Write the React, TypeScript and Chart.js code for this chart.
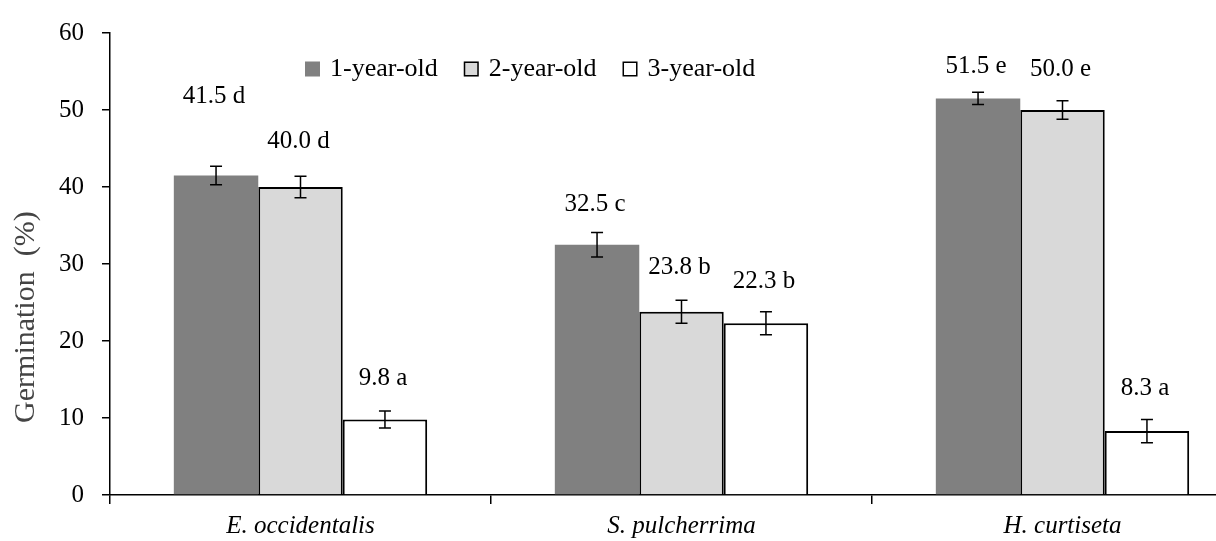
import React, { useEffect, useRef } from 'react';
import { Chart, registerables } from 'chart.js';
Chart.register(...registerables);

const categories = ['E. occidentalis', 'S. pulcherrima', 'H. curtiseta'];
const seriesNames = ['1-year-old', '2-year-old', '3-year-old'];
const oneYear = [41.5, 32.5, 51.5];
const twoYear = [40.0, 23.8, 50.0];
const threeYear = [9.8, 22.3, 8.3];
const oneYearErr = [1.2, 1.6, 0.8];
const twoYearErr = [1.4, 1.5, 1.2];
const threeYearErr = [1.1, 1.5, 1.5];
const oneYearLetters = ['d', 'c', 'e'];
const twoYearLetters = ['d', 'b', 'e'];
const threeYearLetters = ['a', 'b', 'a'];
// heights (in % units) where the annotation texts sit
const oneYearLabelAt = [51.7, 37.7, 55.7];
const twoYearLabelAt = [45.9, 29.6, 55.3];
const threeYearLabelAt = [15.2, 27.7, 13.9];
const yTitle = 'Germination  (%)';
const yMin = 0;
const yMax = 60;
const yStep = 10;

const FONT = "'Liberation Serif', 'Times New Roman', serif";

const errs = [oneYearErr, twoYearErr, threeYearErr];
const letters = [oneYearLetters, twoYearLetters, threeYearLetters];
const labelAts = [oneYearLabelAt, twoYearLabelAt, threeYearLabelAt];

const errorBarPlugin = {
  id: 'errorBars',
  afterDatasetsDraw(chart: any) {
    const ctx = chart.ctx;
    const y = chart.scales.y;
    ctx.save();
    ctx.strokeStyle = '#000';
    ctx.lineWidth = 1.5;
    chart.data.datasets.forEach((ds: any, di: number) => {
      const meta = chart.getDatasetMeta(di);
      meta.data.forEach((bar: any, i: number) => {
        const v = ds.data[i];
        const e = errs[di][i];
        const top = y.getPixelForValue(v + e);
        const bot = y.getPixelForValue(v - e);
        const x = bar.x;
        ctx.beginPath();
        ctx.moveTo(x, top);
        ctx.lineTo(x, bot);
        ctx.moveTo(x - 6, top);
        ctx.lineTo(x + 6, top);
        ctx.moveTo(x - 6, bot);
        ctx.lineTo(x + 6, bot);
        ctx.stroke();
      });
    });
    ctx.restore();
  },
};

const labelPlugin = {
  id: 'valueLabels',
  afterDatasetsDraw(chart: any) {
    const ctx = chart.ctx;
    const y = chart.scales.y;
    ctx.save();
    ctx.fillStyle = '#000';
    ctx.font = `25px ${FONT}`;
    ctx.textAlign = 'center';
    ctx.textBaseline = 'middle';
    chart.data.datasets.forEach((ds: any, di: number) => {
      const meta = chart.getDatasetMeta(di);
      meta.data.forEach((bar: any, i: number) => {
        const txt = `${ds.data[i].toFixed(1)} ${letters[di][i]}`;
        ctx.fillText(txt, bar.x - 2, y.getPixelForValue(labelAts[di][i]));
      });
    });
    ctx.restore();
  },
};

const legendPlugin = {
  id: 'customLegend',
  afterDraw(chart: any) {
    const ctx = chart.ctx;
    const area = chart.chartArea;
    ctx.save();
    ctx.font = `26px ${FONT}`;
    ctx.textBaseline = 'middle';
    let x = area.left + 195;
    const cy = 69;
    const box = 15;
    chart.data.datasets.forEach((ds: any) => {
      ctx.fillStyle = ds.backgroundColor;
      ctx.fillRect(x, cy - box / 2, box, box);
      if (ds.borderWidth > 0) {
        ctx.strokeStyle = '#000';
        ctx.lineWidth = 1.5;
        ctx.strokeRect(x + 0.75, cy - box / 2 + 0.75, box - 1.5, box - 1.5);
      }
      x += box + 10;
      ctx.fillStyle = '#000';
      ctx.textAlign = 'left';
      ctx.fillText(ds.label, x, cy);
      x += ctx.measureText(ds.label).width + 26;
    });
    ctx.restore();
  },
};

const yTitlePlugin = {
  id: 'yTitle',
  afterDraw(chart: any) {
    const ctx = chart.ctx;
    const area = chart.chartArea;
    ctx.save();
    ctx.font = `30px ${FONT}`;
    ctx.fillStyle = '#444';
    ctx.textAlign = 'center';
    ctx.textBaseline = 'alphabetic';
    ctx.translate(area.left - 76, area.top + (area.bottom - area.top) * 0.615);
    ctx.rotate(-Math.PI / 2);
    ctx.fillText(yTitle, 0, 0);
    ctx.restore();
  },
};

export default function App() {
  const ref = useRef<HTMLCanvasElement | null>(null);
  useEffect(() => {
    if (!ref.current) return;
    const chart = new Chart(ref.current, {
      type: 'bar',
      data: {
        labels: categories,
        datasets: [
          { label: seriesNames[0], data: oneYear, backgroundColor: '#808080', borderColor: '#808080', borderWidth: 0 },
          { label: seriesNames[1], data: twoYear, backgroundColor: '#d9d9d9', borderColor: '#000', borderWidth: 2 },
          { label: seriesNames[2], data: threeYear, backgroundColor: '#ffffff', borderColor: '#000', borderWidth: 2 },
        ],
      },
      options: {
        animation: false,
        responsive: true,
        maintainAspectRatio: false,
        datasets: { bar: { barPercentage: 1, categoryPercentage: 0.665 } },
        layout: { padding: { top: 33, right: 8, left: 0, bottom: 0 } },
        plugins: { legend: { display: false }, tooltip: { enabled: false } },
        scales: {
          x: {
            grid: { drawOnChartArea: false, drawTicks: true, tickLength: 9, color: '#000', lineWidth: 1.5, offset: true },
            border: { display: true, color: '#000', width: 1.5 },
            ticks: { color: '#000', font: { family: FONT, size: 25, style: 'italic' }, padding: 7 },
            afterFit: (s: any) => { s.height = 46; },
          },
          y: {
            min: yMin,
            max: yMax,
            grid: { drawOnChartArea: false, drawTicks: true, tickLength: 8, color: '#000', lineWidth: 1.5 },
            border: { display: true, color: '#000', width: 1.5 },
            ticks: { stepSize: yStep, color: '#000', font: { family: FONT, size: 25 }, padding: 18 },
            title: { display: false },
            afterFit: (s: any) => { s.width = 110; },
          },
        },
      },
      plugins: [errorBarPlugin, labelPlugin, legendPlugin, yTitlePlugin],
    });
    return () => chart.destroy();
  }, []);
  return (
    <div style={{ position: 'fixed', left: 0, top: 0, width: 1216, height: 541, overflow: 'hidden', background: '#fff' }}>
      <div style={{ position: 'relative', width: 1261, height: 541 }}>
        <canvas ref={ref} />
      </div>
    </div>
  );
}
